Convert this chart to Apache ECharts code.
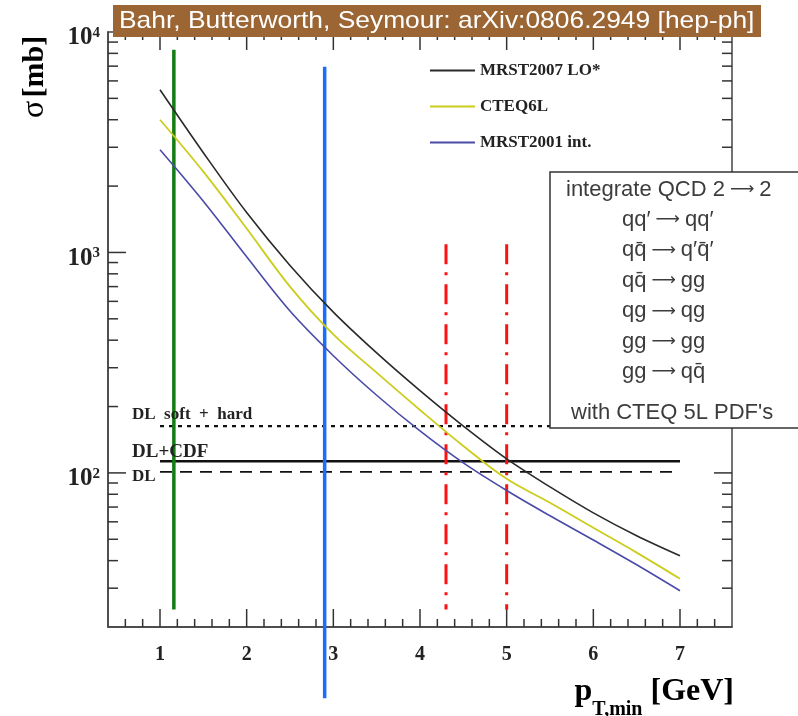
<!DOCTYPE html>
<html>
<head>
<meta charset="utf-8">
<script src="https://cdn.jsdelivr.net/npm/echarts@6/dist/echarts.min.js"></script>
<style>
  html, body { margin: 0; padding: 0; background: #fff; }
  #chart { width: 798px; height: 716px; }
</style>
</head>
<body>
<div id="chart"></div>
<script>
// pT,min values (GeV) where the curves were read
const ptMin = [1, 1.5, 2, 2.5, 3, 3.5, 4, 4.5, 5, 5.5, 6, 6.5, 7];
// sigma (mb) for each PDF
const sigmaMRST2007 = [5470, 2835, 1517, 873, 536, 350, 236, 163, 115.7, 86.4, 65.9, 51.9, 42.1];
const sigmaCTEQ6L = [4000, 2326, 1284, 700, 425, 285, 193, 132.5, 94, 73.2, 56.4, 43.5, 33.1];
const sigmaMRST2001 = [2924, 1708, 955, 542, 340, 225, 155, 111, 83.2, 63.9, 49.6, 38.3, 29.2];

// Donnachie-Landshoff reference levels (mb)
const dlSoftHard = 163;
const dlCDF = 113;
const dl = 101;
const dlRange = [1, 7];

// vertical markers: [x, yFrom, yTo]
const greenMarker = [1.16, 8300, 24];
const blueMarker = [2.9, 6950, 9.5];
const redMarkers = [[4.3, 1090, 24], [5.0, 1090, 24]];

// process list shown in the box
const processes = [
  ['qq′', 'qq′'],
  ['qq̄', 'q′q̄′'],
  ['qq̄', 'gg'],
  ['qg', 'qg'],
  ['gg', 'gg'],
  ['gg', 'qq̄']
];

const X_MIN = 0.4, X_MAX = 7.6;
const Y_MIN = 20, Y_MAX = 10000;

// frame tick positions
const xTickVals = [];
for (let i = 3; i <= 37; i++) xTickVals.push(+(i * 0.2).toFixed(1));
const yTickVals = [30, 40, 50, 60, 70, 80, 90, 100, 200, 300, 400, 500, 600, 700, 800, 900,
  1000, 2000, 3000, 4000, 5000, 6000, 7000, 8000, 9000];

const serif = '"Liberation Serif", "Times New Roman", serif';
const sans = '"Liberation Sans", Arial, sans-serif';

const chart = echarts.init(document.getElementById('chart'));

function pairs(xs, ys) {
  return xs.map((x, i) => [x, ys[i]]);
}

function vline(m, color, width, type, clip) {
  return {
    type: 'line',
    data: [[m[0], m[1]], [m[0], m[2]]],
    symbol: 'none',
    silent: true,
    clip: clip,
    lineStyle: { color: color, width: width, type: type },
    z: 3
  };
}

function hline(y, type, width) {
  return {
    type: 'line',
    data: [[dlRange[0], y], [dlRange[1], y]],
    symbol: 'none',
    silent: true,
    lineStyle: { color: '#111', width: width, type: type },
    z: 2
  };
}

const tickStyle = { stroke: '#333', lineWidth: 1.5 };

const boxText = { fill: '#3c3c3c', verticalAlign: 'middle' };
const boxRich = {
  t: { fontFamily: sans, fontSize: 22, color: '#3c3c3c' },
  a: { fontFamily: '"DejaVu Sans"', fontSize: 17, color: '#555', padding: [0, 5, 0, 5] }
};

const processGraphics = processes.map((p, i) => ({
  type: 'text', z: 101, x: 622, y: 220 + i * 30.4,
  style: Object.assign({ text: '{t|' + p[0] + '}{a|⟶}{t|' + p[1] + '}', rich: boxRich }, boxText)
}));

const option = {
  animation: false,
  grid: {
    left: 108, right: 66, top: 32, bottom: 89,
    show: true, borderColor: '#444', borderWidth: 1.5
  },
  legend: {
    data: ['MRST2007 LO*', 'CTEQ6L', 'MRST2001 int.'],
    orient: 'vertical',
    left: 425,
    top: 57,
    icon: 'rect',
    itemGap: 19,
    itemWidth: 45,
    itemHeight: 2,
    textStyle: { fontFamily: serif, fontWeight: 'bold', fontSize: 17, color: '#222' }
  },
  xAxis: {
    type: 'value',
    min: X_MIN,
    max: X_MAX,
    interval: 0.2,
    splitLine: { show: false },
    axisTick: { show: false },
    axisLine: { lineStyle: { color: '#444', width: 1.5 } },
    axisLabel: {
      margin: 18,
      fontFamily: serif,
      fontWeight: 'bold',
      fontSize: 20,
      color: '#222',
      formatter: function (v) {
        return Math.abs(v - Math.round(v)) < 1e-6 ? String(Math.round(v)) : '';
      }
    }
  },
  yAxis: {
    type: 'log',
    logBase: 10,
    min: Y_MIN,
    max: Y_MAX,
    splitLine: { show: false },
    axisTick: { show: false },
    axisLine: { lineStyle: { color: '#444', width: 1.5 } },
    axisLabel: {
      margin: 8,
      padding: [12, 0, 0, 0],
      formatter: function (v) {
        const e = Math.log10(v);
        const r = Math.round(e);
        if (Math.abs(e - r) < 1e-6 && r >= 2) return '{b|10}{s|' + r + '}';
        return '';
      },
      rich: {
        b: { fontFamily: serif, fontWeight: 'bold', fontSize: 25, color: '#222' },
        s: { fontFamily: serif, fontWeight: 'bold', fontSize: 15, color: '#222', verticalAlign: 'top' }
      }
    }
  },
  series: [
    {
      name: 'MRST2007 LO*',
      type: 'line',
      data: pairs(ptMin, sigmaMRST2007),
      smooth: 0.35,
      symbol: 'none',
      lineStyle: { color: '#2a2a2a', width: 1.6 },
      itemStyle: { color: '#2a2a2a' },
      z: 4
    },
    {
      name: 'CTEQ6L',
      type: 'line',
      data: pairs(ptMin, sigmaCTEQ6L),
      smooth: 0.35,
      symbol: 'none',
      lineStyle: { color: '#cccc1e', width: 1.8 },
      itemStyle: { color: '#cccc1e' },
      z: 4
    },
    {
      name: 'MRST2001 int.',
      type: 'line',
      data: pairs(ptMin, sigmaMRST2001),
      smooth: 0.35,
      symbol: 'none',
      lineStyle: { color: '#4a4aa8', width: 1.6 },
      itemStyle: { color: '#4a4aa8' },
      z: 4
    },
    hline(dlSoftHard, [4, 5], 2.2),
    hline(dlCDF, 'solid', 2.5),
    hline(dl, [12, 8], 1.8),
    vline(greenMarker, '#137d13', 3.5, 'solid', true),
    vline(blueMarker, '#1a6dff', 3.5, 'solid', false),
    vline(redMarkers[0], '#ff1010', 3, [20, 8, 3, 9], true),
    vline(redMarkers[1], '#ff1010', 3, [20, 8, 3, 9], true),
    {
      // x-axis ticks on bottom and top of the frame
      type: 'custom',
      silent: true,
      clip: false,
      data: xTickVals.map(v => [v, Y_MIN]),
      renderItem: function (params, api) {
        const v = api.value(0);
        const len = Math.abs(v - Math.round(v)) < 1e-6 ? 18 : 8;
        const b = api.coord([v, Y_MIN]);
        const t = api.coord([v, Y_MAX]);
        return {
          type: 'group',
          children: [
            { type: 'line', shape: { x1: b[0], y1: b[1], x2: b[0], y2: b[1] - len }, style: tickStyle },
            { type: 'line', shape: { x1: t[0], y1: t[1], x2: t[0], y2: t[1] + len }, style: tickStyle }
          ]
        };
      },
      z: 1
    },
    {
      // y-axis ticks on left and right of the frame
      type: 'custom',
      silent: true,
      clip: false,
      data: yTickVals.map(v => [X_MIN, v]),
      renderItem: function (params, api) {
        const v = api.value(1);
        const e = Math.log10(v);
        const len = Math.abs(e - Math.round(e)) < 1e-6 ? 18 : 10;
        const l = api.coord([X_MIN, v]);
        const r = api.coord([X_MAX, v]);
        return {
          type: 'group',
          children: [
            { type: 'line', shape: { x1: l[0], y1: l[1], x2: l[0] + len, y2: l[1] }, style: tickStyle },
            { type: 'line', shape: { x1: r[0], y1: r[1], x2: r[0] - len, y2: r[1] }, style: tickStyle }
          ]
        };
      },
      z: 1
    }
  ],
  graphic: [
    // citation banner
    {
      type: 'rect', z: 100,
      shape: { x: 113, y: 5, width: 648, height: 32 },
      style: { fill: '#9b6534' }
    },
    {
      type: 'text', z: 101, x: 119, y: 21, scaleX: 1.1,
      style: {
        text: 'Bahr, Butterworth, Seymour: arXiv:0806.2949 [hep-ph]',
        fill: '#fff', font: '24px ' + sans, verticalAlign: 'middle'
      }
    },
    // axis titles
    {
      type: 'text', z: 100, x: 35, y: 77, rotation: Math.PI / 2,
      style: {
        text: '{g|σ} {b|[mb]}',
        align: 'center', verticalAlign: 'middle',
        rich: {
          g: { fontFamily: serif, fontSize: 32, color: '#222' },
          b: { fontFamily: serif, fontWeight: 'bold', fontSize: 30, color: '#222' }
        }
      }
    },
    {
      type: 'text', z: 100, x: 734, y: 692,
      style: {
        text: '{p|p}{s|T,min}{p| [GeV]}',
        align: 'right', verticalAlign: 'middle',
        rich: {
          p: { fontFamily: serif, fontWeight: 'bold', fontSize: 32, color: '#222' },
          s: { fontFamily: serif, fontWeight: 'bold', fontSize: 20, color: '#222', verticalAlign: 'bottom', padding: [0, 0, -12, 0] }
        }
      }
    },
    // DL level labels
    {
      type: 'text', z: 100, x: 132, y: 415,
      style: { text: 'DL  soft  +  hard', fill: '#222', font: 'bold 17px ' + serif, verticalAlign: 'middle' }
    },
    {
      type: 'text', z: 100, x: 132, y: 452,
      style: { text: 'DL+CDF', fill: '#222', font: 'bold 19px ' + serif, verticalAlign: 'middle' }
    },
    {
      type: 'text', z: 100, x: 132, y: 477,
      style: { text: 'DL', fill: '#222', font: 'bold 17px ' + serif, verticalAlign: 'middle' }
    },
    // process box
    {
      type: 'rect', z: 100,
      shape: { x: 550, y: 172, width: 252, height: 256 },
      style: { fill: '#fff', stroke: '#333', lineWidth: 1.5 }
    },
    {
      type: 'text', z: 101, x: 566, y: 190,
      style: Object.assign({ text: '{t|integrate QCD 2}{a|⟶}{t|2}', rich: boxRich }, boxText)
    },
    ...processGraphics,
    {
      type: 'text', z: 101, x: 571, y: 413,
      style: Object.assign({ text: "{t|with CTEQ 5L PDF's}", rich: boxRich }, boxText)
    }
  ]
};

chart.setOption(option);
</script>
</body>
</html>
